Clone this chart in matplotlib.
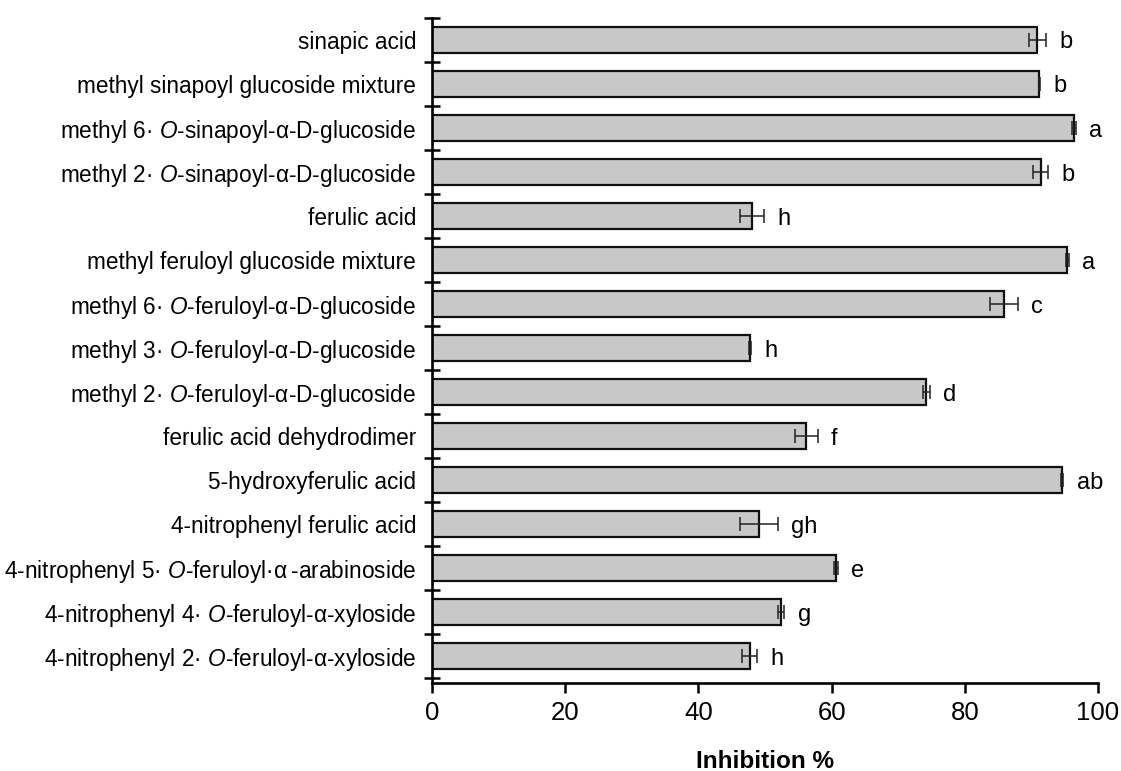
import matplotlib
matplotlib.use("Agg")
import matplotlib.pyplot as plt
from matplotlib.ticker import FixedLocator

plt.rcParams['font.family'] = ['Liberation Sans', 'DejaVu Sans']
plt.rcParams['mathtext.fontset'] = 'custom'
plt.rcParams['mathtext.rm'] = 'Liberation Sans'
plt.rcParams['mathtext.it'] = 'Liberation Sans:italic'
plt.rcParams['mathtext.bf'] = 'Liberation Sans:bold'

compounds = [
    "sinapic acid",
    "methyl sinapoyl glucoside mixture",
    "methyl 6\u00b7 $\\mathit{O}$-sinapoyl-\u03b1-D-glucoside",
    "methyl 2\u00b7 $\\mathit{O}$-sinapoyl-\u03b1-D-glucoside",
    "ferulic acid",
    "methyl feruloyl glucoside mixture",
    "methyl 6\u00b7 $\\mathit{O}$-feruloyl-\u03b1-D-glucoside",
    "methyl 3\u00b7 $\\mathit{O}$-feruloyl-\u03b1-D-glucoside",
    "methyl 2\u00b7 $\\mathit{O}$-feruloyl-\u03b1-D-glucoside",
    "ferulic acid dehydrodimer",
    "5-hydroxyferulic acid",
    "4-nitrophenyl ferulic acid",
    "4-nitrophenyl 5\u00b7 $\\mathit{O}$-feruloyl\u00b7\u03b1\u2009-arabinoside",
    "4-nitrophenyl 4\u00b7 $\\mathit{O}$-feruloyl-\u03b1-xyloside",
    "4-nitrophenyl 2\u00b7 $\\mathit{O}$-feruloyl-\u03b1-xyloside",
]
inhibition = [90.9, 91.2, 96.4, 91.4, 48.1, 95.4, 85.9, 47.7, 74.2, 56.2, 94.6, 49.1, 60.7, 52.4, 47.7]
errors = [1.3, 0.1, 0.25, 1.1, 1.8, 0.2, 2.1, 0.15, 0.5, 1.7, 0.2, 2.8, 0.3, 0.5, 1.1]
letters = ["b", "b", "a", "b", "h", "a", "c", "h", "d", "f", "ab", "gh", "e", "g", "h"]
x_ticks = [0, 20, 40, 60, 80, 100]

fig = plt.figure(figsize=(11.21, 7.71), dpi=100)
ax = fig.add_axes([0.3854, 0.1141, 0.5941, 0.8626])

pos = list(range(len(compounds)))
ax.barh(pos, inhibition, height=0.59, color="#c8c8c8", edgecolor="#111111",
        linewidth=1.6, zorder=2)
ax.errorbar(inhibition, pos, xerr=errors, fmt="none", ecolor="#222222",
            elinewidth=1.1, capsize=4.7, capthick=1.1, zorder=3)

for p, v, e, lab in zip(pos, inhibition, errors, letters):
    ax.annotate(lab, xy=(v + e, p), xytext=(9.5, 0), textcoords="offset points",
                ha="left", va="center_baseline", fontsize=17)

ax.set_ylim(14.61, -0.5)
ax.set_xlim(0, 100)
ax.set_yticks(pos)
ax.set_yticklabels(compounds, fontsize=16.3)
ax.yaxis.set_minor_locator(FixedLocator([k - 0.5 for k in range(len(compounds) + 1)]))
ax.tick_params(axis="y", which="major", length=0, pad=11.5)
ax.tick_params(axis="y", which="minor", direction="inout", length=11, width=1.8)
ax.set_xticks(x_ticks)
ax.set_xticklabels([str(t) for t in x_ticks], fontsize=18.5)
ax.tick_params(axis="x", which="major", direction="out", length=7.5, width=1.8, pad=5.5)

for s in ["top", "right"]:
    ax.spines[s].set_visible(False)
for s in ["left", "bottom"]:
    ax.spines[s].set_linewidth(1.9)

ax.set_xlabel("Inhibition %", fontsize=17.5, fontweight="bold")
ax.xaxis.set_label_coords(0.5, -0.1)

fig.savefig("out.png", dpi=100)
